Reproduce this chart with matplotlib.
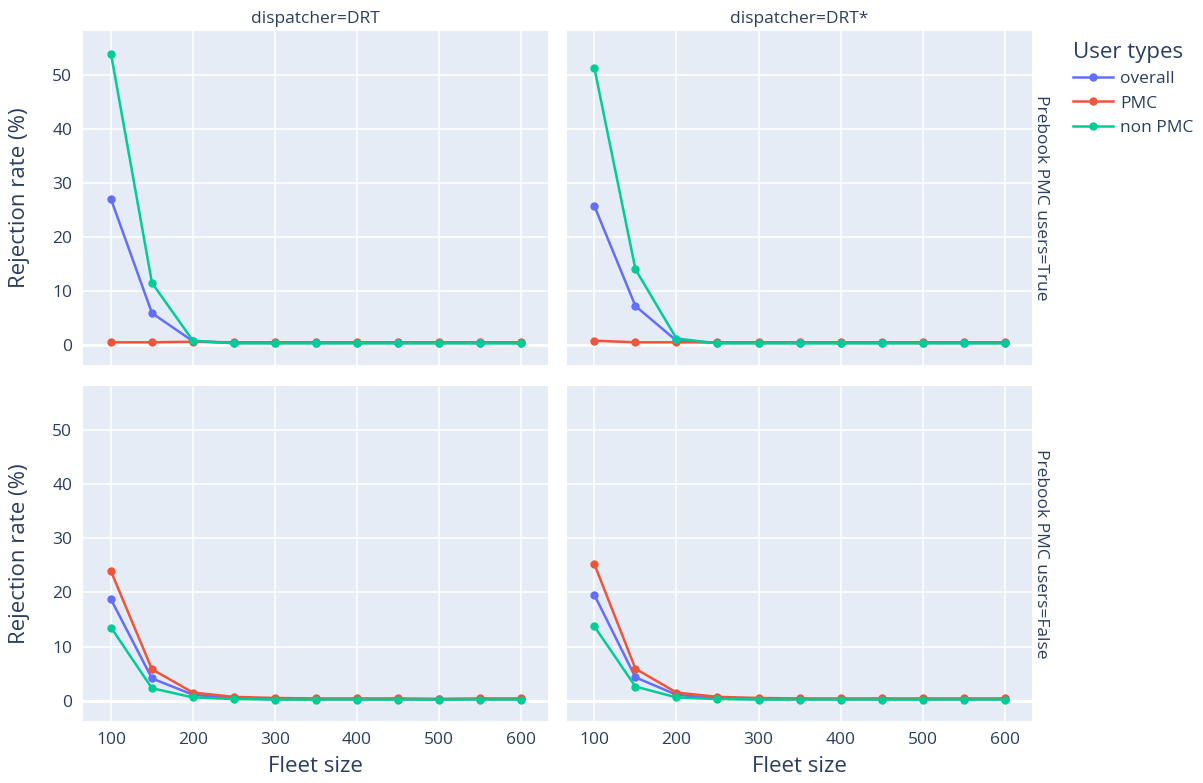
#!/usr/bin/env python3
"""Rejection rate vs fleet size, faceted by dispatcher and prebooking (plotly-like look)."""
import matplotlib

matplotlib.use("Agg")
import matplotlib.pyplot as plt
from matplotlib.lines import Line2D

plt.rcParams["font.family"] = ["Open Sans", "DejaVu Sans"]

TXT = "#2a3f5f"
BG = "#E5ECF6"
COLORS = {"overall": "#636EFA", "PMC": "#EF553B", "non PMC": "#00CC96"}

fleet = [100, 150, 200, 250, 300, 350, 400, 450, 500, 550, 600]
user_types = ["overall", "PMC", "non PMC"]
dispatchers = ["DRT", "DRT*"]
prebook = ["True", "False"]

# dispatcher=DRT, prebook=True
drt_true_overall = [27.0, 5.9, 0.7, 0.4, 0.4, 0.4, 0.4, 0.4, 0.4, 0.4, 0.4]
drt_true_pmc = [0.5, 0.5, 0.6, 0.5, 0.5, 0.5, 0.5, 0.5, 0.5, 0.5, 0.5]
drt_true_non = [53.9, 11.5, 0.8, 0.3, 0.3, 0.3, 0.3, 0.3, 0.3, 0.3, 0.3]
# dispatcher=DRT*, prebook=True
drts_true_overall = [25.7, 7.2, 0.8, 0.4, 0.4, 0.4, 0.4, 0.4, 0.4, 0.4, 0.4]
drts_true_pmc = [0.8, 0.5, 0.5, 0.5, 0.5, 0.5, 0.5, 0.5, 0.5, 0.5, 0.5]
drts_true_non = [51.2, 14.0, 1.2, 0.3, 0.3, 0.3, 0.3, 0.3, 0.3, 0.3, 0.3]
# dispatcher=DRT, prebook=False
drt_false_overall = [18.7, 4.1, 1.1, 0.4, 0.3, 0.3, 0.3, 0.3, 0.3, 0.3, 0.3]
drt_false_pmc = [23.9, 5.8, 1.5, 0.7, 0.5, 0.4, 0.4, 0.4, 0.3, 0.4, 0.4]
drt_false_non = [13.5, 2.3, 0.6, 0.3, 0.2, 0.2, 0.2, 0.2, 0.2, 0.2, 0.2]
# dispatcher=DRT*, prebook=False
drts_false_overall = [19.5, 4.3, 1.1, 0.4, 0.3, 0.3, 0.3, 0.3, 0.3, 0.3, 0.3]
drts_false_pmc = [25.2, 5.9, 1.5, 0.7, 0.5, 0.4, 0.4, 0.4, 0.4, 0.4, 0.4]
drts_false_non = [13.7, 2.6, 0.6, 0.3, 0.2, 0.2, 0.2, 0.2, 0.2, 0.2, 0.2]

panels = {
    ("True", "DRT"): [drt_true_overall, drt_true_pmc, drt_true_non],
    ("True", "DRT*"): [drts_true_overall, drts_true_pmc, drts_true_non],
    ("False", "DRT"): [drt_false_overall, drt_false_pmc, drt_false_non],
    ("False", "DRT*"): [drts_false_overall, drts_false_pmc, drts_false_non],
}

W, H = 1203, 783
fig = plt.figure(figsize=(W / 100, H / 100), dpi=100)

# panel boxes in pixels (left, top, right, bottom)
col_px = [(83.3, 547.7), (566.7, 1031.7)]
row_px = [(31, 365), (386, 720.7)]

for r, pb in enumerate(prebook):
    for c, disp in enumerate(dispatchers):
        x0, x1 = col_px[c]
        y0, y1 = row_px[r]
        ax = fig.add_axes([x0 / W, 1 - y1 / H, (x1 - x0) / W, (y1 - y0) / H])
        ax.set_facecolor(BG)
        for s in ax.spines.values():
            s.set_visible(False)
        ax.set_xlim(66.2, 633)
        ax.set_ylim(-3.7, 58.1)
        ax.set_xticks(range(100, 601, 100))
        ax.set_yticks(range(0, 51, 10))
        ax.grid(True, color="white", linewidth=1.1)
        ax.axhline(0, color="white", linewidth=2.2, zorder=1)
        ax.set_axisbelow(True)
        ax.tick_params(length=0, labelsize=12.5, colors=TXT, pad=8)
        if c > 0:
            ax.tick_params(labelleft=False)
        if r == 0:
            ax.tick_params(labelbottom=False)
            ax.text(0.5, 1 + 12 / (y1 - y0), f"dispatcher={disp}", transform=ax.transAxes,
                    ha="center", va="center", fontsize=12.5, color=TXT)
        for ut, vals in zip(user_types, panels[(pb, disp)]):
            ax.plot(fleet, vals, "-o", color=COLORS[ut], linewidth=1.8, markersize=5,
                    zorder=3)
        if c == 1:
            ax.text(1 + 9 / (x1 - x0), 0.5, f"Prebook PMC users={pb}", transform=ax.transAxes,
                    rotation=-90, ha="center", va="center", fontsize=12.5, color=TXT)
        if c == 0:
            fig.text(20 / W, 1 - (y0 + y1) / 2 / H, "Rejection rate (%)", rotation=90,
                     ha="center", va="center", fontsize=16, color=TXT)
        if r == 1:
            fig.text((x0 + x1) / 2 / W, 16 / H, "Fleet size", ha="center", va="center",
                     fontsize=16, color=TXT)

handles = [Line2D([], [], color=COLORS[u], marker="o", linewidth=1.8, markersize=5)
           for u in user_types]
leg = fig.legend(handles, user_types, loc="upper left", bbox_to_anchor=(1066 / W, 1 - 35 / H),
                 frameon=False, title="User types", title_fontsize=16, fontsize=12.5,
                 alignment="left", handlelength=2.3, labelspacing=0.47, handletextpad=0.4,
                 borderaxespad=0)
leg.get_title().set_color(TXT)
for t in leg.get_texts():
    t.set_color(TXT)

fig.savefig("out.png", dpi=100)
